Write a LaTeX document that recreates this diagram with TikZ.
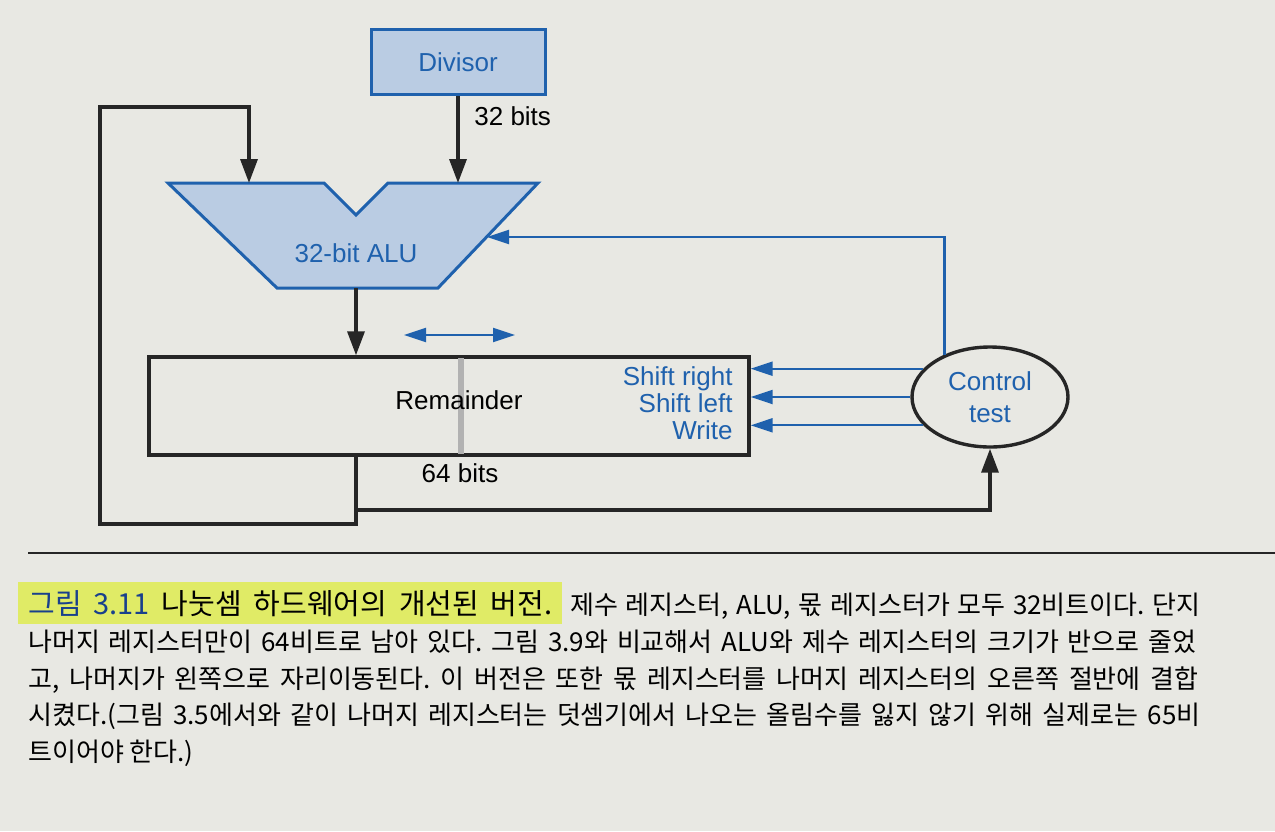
\documentclass[tikz,border=0pt]{standalone}
\usepackage{fontspec}
\setmainfont{Liberation Sans}
\newfontfamily\kr{Noto Sans CJK KR}
\usetikzlibrary{shapes.geometric,arrows.meta}

\begin{document}
\frenchspacing
\begin{tikzpicture}[x=0.5pt,y=-0.5pt,
    blk/.style={line width=1.7pt,draw=black!85},
    blu/.style={line width=1.1pt,draw=bl},
    tip/.style={-{Triangle[length=12pt,width=8.5pt]}},
    btip/.style={-{Triangle[length=11pt,width=7pt]}},
    lbl/.style={font=\fontsize{13}{13.5}\selectfont,inner sep=0pt},
    regbox/.style={draw=bl,fill=lb,line width=1.5pt,text=bl,lbl},
    captxt/.style={font=\kr\fontsize{13}{14}\selectfont,anchor=base west,inner sep=0pt}]
    % colours %
    \definecolor{paper}{rgb}{0.91,0.91,0.89}
    \definecolor{lb}{rgb}{0.73,0.80,0.89}
    \definecolor{bl}{rgb}{0.12,0.38,0.68}
    \definecolor{capblue}{rgb}{0.10,0.25,0.55}
    \definecolor{hl}{rgb}{0.88,0.92,0.40}
    \fill[paper] (0,0) rectangle (1275,831);
    \useasboundingbox (0,0) rectangle (1275,831);

    % divisor and alu %
    \node[regbox,minimum width=87pt,minimum height=32.5pt] (divisor) at (458,62) {Divisor};
    \filldraw[fill=lb,draw=bl,line width=1.5pt] (168,183) -- (324,183) -- (356,215) -- (388,183)
        -- (538,183) -- (438,288) -- (277,288) -- cycle;
    \coordinate (aluA) at (249,183);
    \coordinate (aluB) at (458,183);
    \coordinate (aluOut) at (356,288);
    \coordinate (aluCtl) at (487,237);
    \node[lbl,text=bl] (alu) at (356,253) {32-bit ALU};
    \draw[blk,tip] (divisor) -- (aluB);
    \node[lbl,anchor=west] (bits32) at (474,116) {32 bits};

    % remainder %
    \node[draw=black!85,line width=1.7pt,minimum width=300pt,minimum height=49pt,inner sep=0pt] (remainder) at (449,406) {};
    \fill[gray!60] (458,358) rectangle (464,454);
    \node[lbl] (remtext) at (459,400) {Remainder};
    \node[lbl,text=bl,align=right,anchor=east] (ctltext) at (733,403) {Shift right\\Shift left\\Write};
    \node[lbl] (bits64) at (460,473) {64 bits};
    \draw[blk,tip] (aluOut) -- (aluOut |- remainder.north);
    \coordinate (shL) at (404,335);
    \coordinate (shR) at (515,335);
    \draw[blu,{Triangle[length=11pt,width=7pt]}-{Triangle[length=11pt,width=7pt]}] (shL) -- (shR);

    % control test %
    \node[ellipse,draw=black!85,line width=1.7pt,minimum width=78pt,minimum height=50pt,inner sep=0pt,
        text=bl,align=center,font=\fontsize{13}{16}\selectfont] (control) at (990,397) {Control\\test};
    \foreach \a in {157,180,203}
        \draw[blu,btip] (control.\a) -- (control.\a -| remainder.east);
    \draw[blu,btip] (control.137) |- (aluCtl);

    % feedback paths %
    \coordinate (tap) at (356,510);
    \draw[blk,tip] (aluOut |- remainder.south) -- (356,524) -| (100,107) -| (aluA);
    \draw[blk,tip] (tap) -| (control.south);

    % caption %
    \draw[black!85,line width=0.9pt] (28,553) -- (1275,553);
    \node[captxt,fill=hl,inner xsep=5pt,inner ysep=4pt,font=\kr\fontsize{14.5}{15}\selectfont] (title) at (18,614)
        {\makebox[262pt][s]{\textcolor{capblue}{그림 3.11} 나눗셈 하드웨어의 개선된 버전.}};
    \node[captxt] (cap1) at (570,614) {\makebox[315pt][s]{제수 레지스터, ALU, 몫 레지스터가 모두 32비트이다. 단지}};
    \node[captxt] (cap2) at (28,651) {\makebox[584pt][s]{나머지 레지스터만이 64비트로 남아 있다. 그림 3.9와 비교해서 ALU와 제수 레지스터의 크기가 반으로 줄었}};
    \node[captxt] (cap3) at (28,688) {\makebox[585pt][s]{고, 나머지가 왼쪽으로 자리이동된다. 이 버전은 또한 몫 레지스터를 나머지 레지스터의 오른쪽 절반에 결합}};
    \node[captxt] (cap4) at (28,724) {\makebox[586pt][s]{시켰다.(그림 3.5에서와 같이 나머지 레지스터는 덧셈기에서 나오는 올림수를 잃지 않기 위해 실제로는 65비}};
    \node[captxt] (cap5) at (28,761) {트이어야 한다.)};
\end{tikzpicture}
\end{document}
